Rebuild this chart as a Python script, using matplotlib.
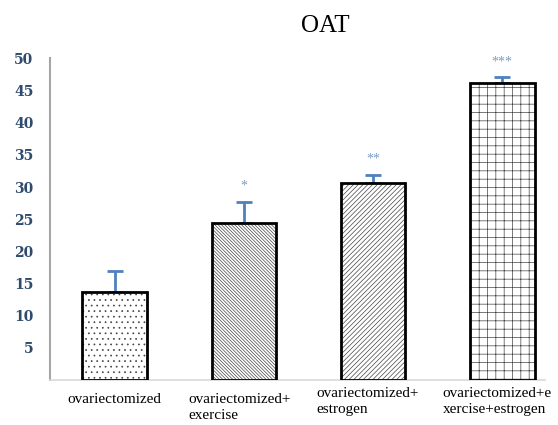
import matplotlib
matplotlib.use('Agg')
import matplotlib.pyplot as plt

# OAT levels per group, upper error and significance marks
groups = ['ovariectomized',
          'ovariectomized+\nexercise',
          'ovariectomized+\nestrogen',
          'ovariectomized+e\nxercise+estrogen']
means = [13.7, 24.4, 30.6, 46.2]
errors = [3.2, 3.3, 1.3, 0.9]
stars = ['', '*', '**', '***']
hatches = ['...', '\\' * 10, '/' * 7, '++']
y_ticks = [5, 10, 15, 20, 25, 30, 35, 40, 45, 50]

plt.rcParams['hatch.linewidth'] = 0.5

fig = plt.figure(figsize=(5.58, 4.25), dpi=100)
ax = fig.add_axes([0.0896, 0.106, 0.887, 0.7565])

x = list(range(len(groups)))
# hatch fill in grey, then a separate black outline on top
fills = ax.bar(x, means, width=0.5, color='white', edgecolor='#444444',
               linewidth=0, zorder=3)
for b, h in zip(fills, hatches):
    b.set_hatch(h)
ax.bar(x, means, width=0.5, fill=False, edgecolor='black', linewidth=2,
       zorder=4)

ax.errorbar(x, means, yerr=[[0] * len(errors), errors], fmt='none',
            ecolor='#4F81BD', elinewidth=2, capsize=6, capthick=2, zorder=2)

for xi, m, e, s in zip(x, means, errors, stars):
    if s:
        ax.text(xi, m + e + 2.4, s, ha='center', va='center',
                fontsize=10, color='#7F9CC0', family='Liberation Serif')

ax.set_xlim(-0.5, 3.33)
ax.set_ylim(0, 50)
ax.set_yticks(y_ticks)
ax.set_yticklabels([str(t) for t in y_ticks], family='DejaVu Serif',
                   fontsize=10, color='#2F4B6E', fontweight='bold')
ax.tick_params(axis='y', length=0, pad=12)
ax.set_xticks([])

# category labels sit left-aligned below the bars
label_pos = [(0, 'center', -2.0), (0.57, 'left', -2.0), (1.56, 'left', -1.1), (2.54, 'left', -1.1)]
for (xp, ha, yp), g in zip(label_pos, groups):
    ax.text(xp, yp, g, ha=ha, va='top', fontsize=11, family='Liberation Serif',
            linespacing=1.3, clip_on=False)

for side in ['top', 'right']:
    ax.spines[side].set_visible(False)
ax.spines['left'].set_color('#A6A6A6')
ax.spines['left'].set_linewidth(1.5)
ax.spines['bottom'].set_color('#D9D9D9')
ax.spines['bottom'].set_linewidth(1.2)

fig.text(0.583, 0.94, 'OAT', ha='center', va='center', fontsize=18,
         family='Liberation Serif')

fig.savefig('out.png', dpi=100, facecolor='white')
